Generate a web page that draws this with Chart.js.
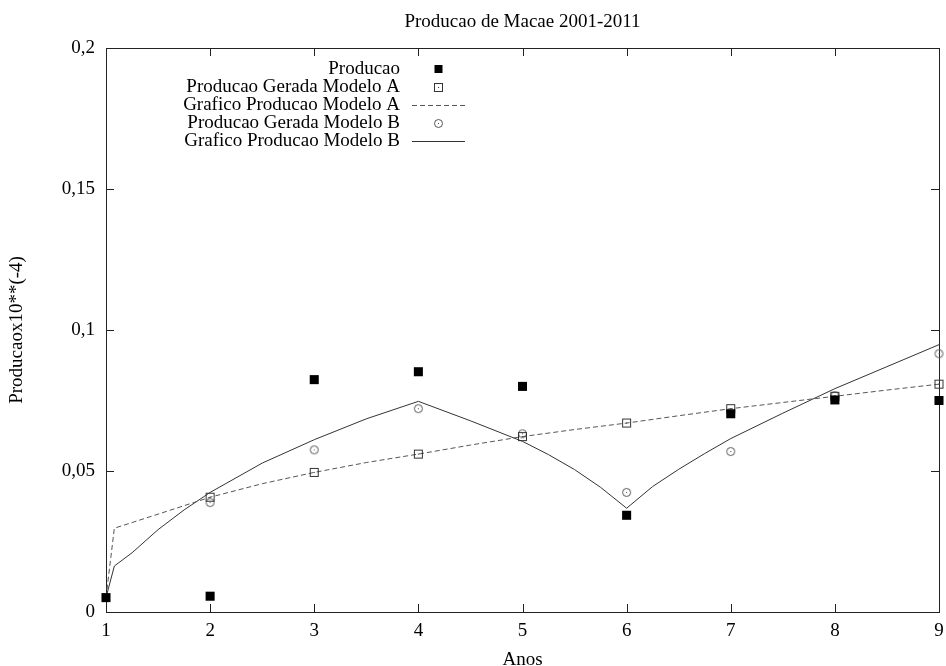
<!DOCTYPE html>
<html>
<head>
<meta charset="utf-8">
<title>Producao de Macae 2001-2011</title>
<script src="https://cdn.jsdelivr.net/npm/chart.js@4.4.1/dist/chart.umd.min.js"></script>
<style>
  html, body { margin: 0; padding: 0; background: #fff; }
  #chart { display: block; }
</style>
</head>
<body>
<canvas id="chart" width="946" height="666"></canvas>
<script>
// Producao observada por ano (1 = 2001)
const anos = [1, 2, 3, 4, 5, 6, 7, 8, 9];
const producao = [0.0051, 0.0056, 0.0824, 0.0852, 0.0800, 0.0343, 0.0703, 0.0752, 0.0750];

// Valores gerados pelos modelos
const anosModelo = [2, 3, 4, 5, 6, 7, 8, 9];
const geradaA = [0.0407, 0.0495, 0.0560, 0.0622, 0.0670, 0.0721, 0.0765, 0.0808];
const geradaB = [0.0388, 0.0575, 0.0721, 0.0632, 0.0424, 0.0569, 0.0767, 0.0916];

// Curvas dos modelos
const curvaAx = [1, 1.08, 1.5, 2, 2.5, 3, 3.5, 4, 4.5, 5, 5.5, 6, 6.5, 7, 7.5, 8, 8.5, 9];
const curvaAy = [0.0051, 0.0297, 0.0347, 0.0407, 0.0455, 0.0495, 0.0530, 0.0560, 0.0592, 0.0622,
                 0.0647, 0.0670, 0.0696, 0.0721, 0.0743, 0.0765, 0.0787, 0.0808];
const curvaBx = [1, 1.08, 1.25, 1.5, 1.75, 2, 2.5, 3, 3.5, 4, 4.5, 5, 5.25, 5.5, 5.75, 6,
                 6.25, 6.5, 6.75, 7, 7.5, 8, 8.5, 9];
const curvaBy = [0.0051, 0.0163, 0.0210, 0.0292, 0.0362, 0.0424, 0.0528, 0.0611, 0.0685, 0.0747,
                 0.0678, 0.0605, 0.0558, 0.0505, 0.0442, 0.0368, 0.0445, 0.0506, 0.0562, 0.0615,
                 0.0705, 0.0792, 0.0870, 0.0948];

const yTickLabels = ['0', '0,05', '0,1', '0,15', '0,2'];

const SERIF = '"Liberation Serif", "Times New Roman", serif';
const FONT_SIZE = 19;

function toPoints(xs, ys) {
    return xs.map((x, i) => ({ x: x, y: ys[i] }));
}

// open markers with a dot in the middle, gnuplot style
function makeMarker(kind, color) {
    const c = document.createElement('canvas');
    c.width = 11;
    c.height = 11;
    const g = c.getContext('2d');
    g.strokeStyle = color;
    g.fillStyle = color;
    g.lineWidth = 1;
    if (kind === 'square') {
        g.strokeRect(1.5, 1.5, 8, 8);
    } else {
        g.beginPath();
        g.arc(5.5, 5.5, 4, 0, Math.PI * 2);
        g.stroke();
    }
    g.fillRect(5, 5, 1, 1);
    return c;
}

const squareMarker = makeMarker('square', '#333');
const circleMarker = makeMarker('circle', '#555');

// frame around the plot with inward ticks on every side
const framePlugin = {
    id: 'frame',
    beforeDatasetsDraw(chart) {
        const { ctx, chartArea: a, scales } = chart;
        const len = 8;
        ctx.save();
        ctx.strokeStyle = '#222';
        ctx.lineWidth = 1;
        ctx.beginPath();
        scales.x.ticks.forEach((t, i) => {
            const px = Math.round(scales.x.getPixelForTick(i)) + 0.5;
            ctx.moveTo(px, a.bottom);
            ctx.lineTo(px, a.bottom - len);
            ctx.moveTo(px, a.top);
            ctx.lineTo(px, a.top + len);
        });
        scales.y.ticks.forEach((t, i) => {
            const py = Math.round(scales.y.getPixelForTick(i)) + 0.5;
            ctx.moveTo(a.left, py);
            ctx.lineTo(a.left + len, py);
            ctx.moveTo(a.right, py);
            ctx.lineTo(a.right - len, py);
        });
        ctx.stroke();
        ctx.strokeRect(Math.round(a.left) + 0.5, Math.round(a.top) + 0.5,
                       Math.round(a.right - a.left), Math.round(a.bottom - a.top));
        ctx.restore();
    }
};

// key in the upper left: label right aligned, sample to its right
const legendPlugin = {
    id: 'gnuKey',
    afterDatasetsDraw(chart) {
        const ctx = chart.ctx;
        const textRight = 400, symX = 438.5, lineL = 412, lineR = 465;
        ctx.save();
        ctx.font = FONT_SIZE + 'px ' + SERIF;
        ctx.textAlign = 'right';
        ctx.textBaseline = 'middle';
        chart.data.datasets.forEach((ds, i) => {
            const y = 69 + i * 18;
            ctx.fillStyle = '#000';
            ctx.fillText(ds.label, textRight, y);
            if (ds.showLine) {
                ctx.strokeStyle = ds.borderColor;
                ctx.lineWidth = 1;
                ctx.setLineDash(ds.borderDash || []);
                ctx.beginPath();
                ctx.moveTo(lineL, Math.round(y) + 0.5);
                ctx.lineTo(lineR, Math.round(y) + 0.5);
                ctx.stroke();
                ctx.setLineDash([]);
            } else if (ds.pointStyle === 'rect') {
                ctx.fillStyle = '#000';
                ctx.fillRect(symX - 4, y - 4, 8, 8);
            } else {
                ctx.drawImage(ds.pointStyle, Math.round(symX - 5.5), Math.round(y - 5.5));
            }
        });
        ctx.restore();
    }
};

const ctx = document.getElementById('chart');
new Chart(ctx, {
    type: 'scatter',
    data: {
        datasets: [
            {
                label: 'Producao',
                data: toPoints(anos, producao),
                pointStyle: 'rect',
                pointRadius: 6.4,
                backgroundColor: '#000',
                borderColor: '#000',
                borderWidth: 0,
                clip: false
            },
            {
                label: 'Producao Gerada Modelo A',
                data: toPoints(anosModelo, geradaA),
                pointStyle: squareMarker,
                pointRadius: 5,
                clip: false
            },
            {
                label: 'Grafico Producao Modelo A',
                data: toPoints(curvaAx, curvaAy),
                showLine: true,
                pointRadius: 0,
                borderColor: '#555',
                borderWidth: 1,
                borderDash: [5, 3],
                tension: 0
            },
            {
                label: 'Producao Gerada Modelo B',
                data: toPoints(anosModelo, geradaB),
                pointStyle: circleMarker,
                pointRadius: 5,
                clip: false
            },
            {
                label: 'Grafico Producao Modelo B',
                data: toPoints(curvaBx, curvaBy),
                showLine: true,
                pointRadius: 0,
                borderColor: '#333',
                borderWidth: 1,
                tension: 0
            }
        ]
    },
    options: {
        responsive: false,
        animation: false,
        devicePixelRatio: 1,
        layout: { padding: { left: 0, right: 7, top: 0, bottom: 0 } },
        plugins: {
            legend: { display: false },
            tooltip: { enabled: false },
            title: {
                display: true,
                fullSize: false,   // centred over the plot, not the canvas
                text: 'Producao de Macae 2001-2011',
                color: '#000',
                font: { family: SERIF, size: FONT_SIZE, weight: 'normal', lineHeight: 1.2 },
                padding: { top: 11, bottom: 14.2 }
            }
        },
        scales: {
            x: {
                type: 'linear',
                min: 1,
                max: 9,
                grid: { display: false, drawTicks: false },
                border: { display: false },
                ticks: {
                    stepSize: 1,
                    padding: 8,
                    color: '#000',
                    font: { family: SERIF, size: FONT_SIZE }
                },
                title: {
                    display: true,
                    text: 'Anos',
                    color: '#000',
                    font: { family: SERIF, size: FONT_SIZE, lineHeight: 0.6 },
                    padding: { top: 0, bottom: 0 }
                },
                afterFit(scale) {
                    scale.height = 54;
                    // edge labels may hang past the frame
                    scale.paddingLeft = 0;
                    scale.paddingRight = 0;
                }
            },
            y: {
                min: 0,
                max: 0.2,
                grid: { display: false, drawTicks: false },
                border: { display: false },
                ticks: {
                    stepSize: 0.05,
                    padding: 11,
                    color: '#000',
                    font: { family: SERIF, size: FONT_SIZE },
                    callback: (v, i) => yTickLabels[i]
                },
                title: {
                    display: true,
                    text: 'Producaox10**(-4)',
                    color: '#000',
                    font: { family: SERIF, size: FONT_SIZE, lineHeight: 1.2 },
                    padding: { top: 6, bottom: 0 }
                },
                afterFit(scale) { scale.width = 106; }
            }
        }
    },
    plugins: [framePlugin, legendPlugin]
});
</script>
</body>
</html>
